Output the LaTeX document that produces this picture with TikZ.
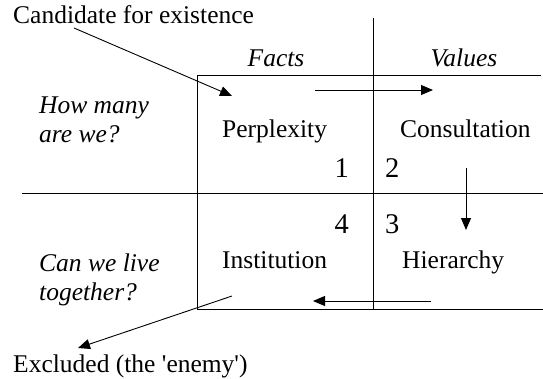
\documentclass[tikz,border=0pt]{standalone}
\usepackage{fontspec}
\setmainfont{Liberation Serif}
\usetikzlibrary{arrows.meta}
\begin{document}
\begin{tikzpicture}[x=1pt,y=-1pt,
  txt/.style={inner sep=0pt,font=\fontsize{25.5}{29}\selectfont},
  itx/.style={txt,font=\fontsize{25.5}{29}\selectfont\itshape,align=left},
  num/.style={inner sep=0pt,font=\fontsize{28.5}{30}\selectfont},
  rule/.style={line width=0.9pt},
  arr/.style={line width=0.9pt,-{Triangle[length=12pt,width=10pt]}}]
\useasboundingbox (0,0) rectangle (543,378);
% grid and box
\coordinate (vt) at (373,18);
\coordinate (vb) at (373,309);
\coordinate (hl) at (22,193);
\coordinate (hr) at (543,193);
\coordinate (btl) at (197,75);
\coordinate (btr) at (541,75);
\coordinate (bbl) at (197,309);
\coordinate (bbr) at (543,309);
\draw[rule] (vt) -- (vb);
\draw[rule] (hl) -- (hr);
\draw[rule] (btr) -- (btl) -- (bbl) -- (bbr);
% texts
\node[txt,anchor=base west] (cand) at (13,23) {Candidate for existence};
\node[itx,anchor=base] (facts) at (276,66) {Facts};
\node[itx,anchor=base] (values) at (464,66) {Values};
\node[itx,anchor=base west] (how1) at (39,113) {How many};
\node[itx,anchor=base west] (how2) at (39,142) {are we?};
\node[itx,anchor=base west] (can1) at (39,271) {Can we live};
\node[itx,anchor=base west] (can2) at (39,300) {together?};
\node[txt,anchor=base west] (perp) at (222,137) {Perplexity};
\node[txt,anchor=base west] (cons) at (400,137) {Consultation};
\node[txt,anchor=base west] (inst) at (222,268) {Institution};
\node[txt,anchor=base west] (hier) at (402,268) {Hierarchy};
\node[num,anchor=base east] (n1) at (349,177) {1};
\node[num,anchor=base west] (n2) at (385,177) {2};
\node[num,anchor=base east] (n4) at (349,233) {4};
\node[num,anchor=base west] (n3) at (385,233) {3};
\node[txt,anchor=base west] (excl) at (13,372) {Excluded (the \textquotesingle enemy\textquotesingle)};
% arrows
\coordinate (a1s) at (74,28);
\coordinate (a1e) at (232,96);
\draw[arr] (a1s) -- (a1e);
\coordinate (a2s) at (315,90);
\coordinate (a2e) at (433,90);
\draw[arr] (a2s) -- (a2e);
\coordinate (a3s) at (466,168);
\coordinate (a3e) at (466,230);
\draw[arr] (a3s) -- (a3e);
\coordinate (a4s) at (431,301);
\coordinate (a4e) at (313,301);
\draw[arr] (a4s) -- (a4e);
\coordinate (a5s) at (232,296);
\coordinate (a5e) at (78,348);
\draw[arr] (a5s) -- (a5e);
\end{tikzpicture}
\end{document}
